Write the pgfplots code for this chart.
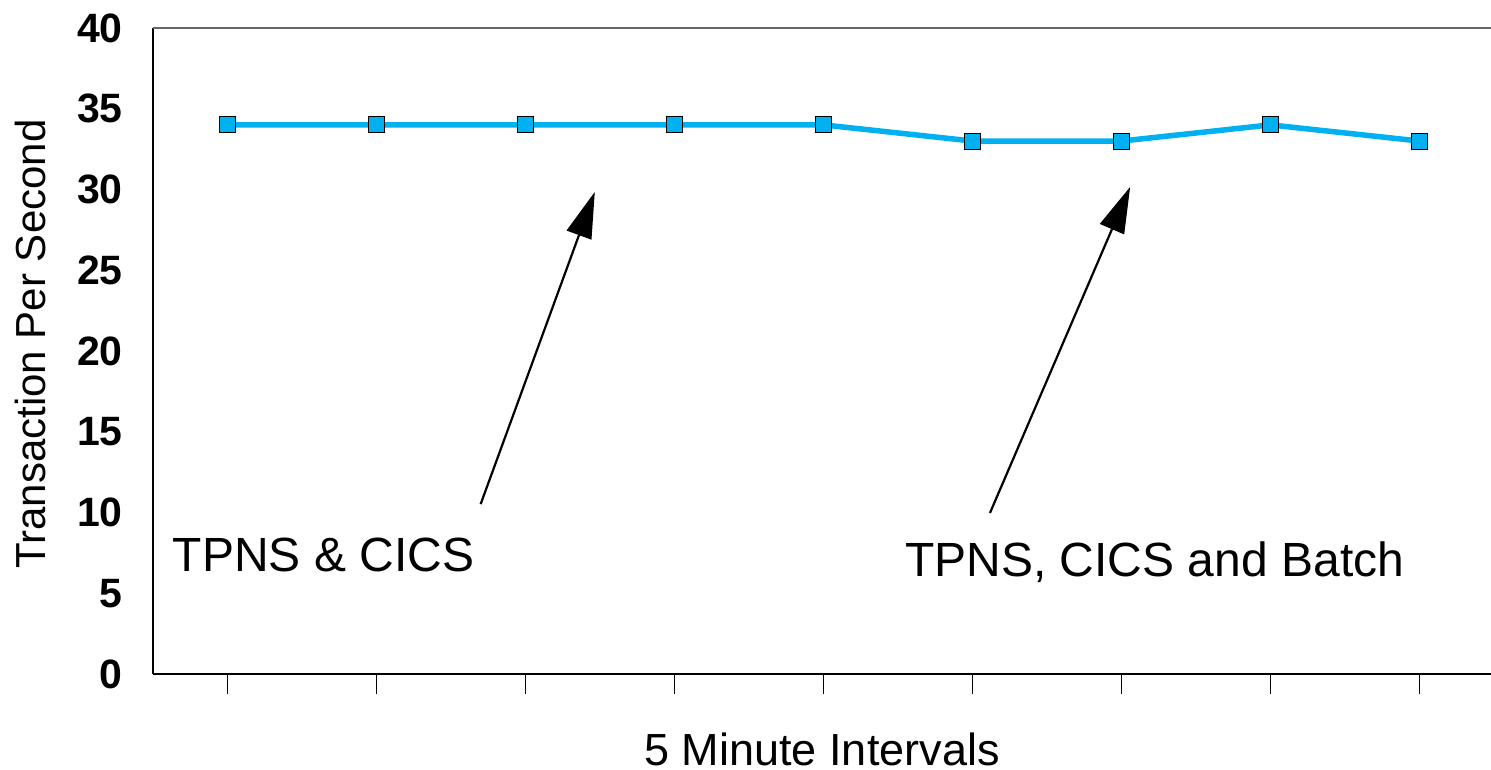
\documentclass[border=0pt]{standalone}
\usepackage{pgfplots}
\pgfplotsset{compat=1.18}
\usepackage{fontspec}
\setmainfont{Liberation Sans}
\usetikzlibrary{arrows.meta}
\definecolor{linecyan}{RGB}{0,176,240}
\begin{document}
\begin{tikzpicture}[x=1pt,y=1pt]
\useasboundingbox (-153,-96) rectangle (1338,674);
\begin{axis}[
  at={(0,0)}, anchor=south west,
  scale only axis,
  width=1338pt, height=646pt,
  xmin=0.5, xmax=9.48,
  ymin=0, ymax=40,
  axis x line*=bottom, axis y line*=left,
  axis line style={line width=2.4pt, -},
  xtick={1,2,3,4,5,6,7,8,9},
  xticklabels={},
  x tick style={black, line width=1pt},
  xtick align=outside,
  major tick length=20pt,
  ytick={0,5,...,40},
  y tick style={draw=none},
  /pgf/number format/assume math mode=true,
  yticklabel style={font=\bfseries\fontsize{41}{41}\selectfont, anchor=east, inner sep=0pt},
  yticklabel shift=30pt,
  xlabel={5 Minute Intervals},
  ylabel={Transaction Per Second},
  every axis x label/.style={at={(axis description cs:0.5,-0.1409)}, anchor=base, inner sep=0pt, text depth=0pt, font=\fontsize{45}{45}\selectfont},
  every axis y label/.style={at={(axis description cs:-0.07997,0.5108)}, anchor=base, rotate=90, font=\fontsize{42}{42}\selectfont},
  clip=false,
]
\addplot[color=linecyan, line width=5.5pt, mark=square*, mark size=8pt,
  mark options={fill=linecyan, draw=black, line width=1pt, solid}]
  coordinates {(1,34) (2,34) (3,34) (4,34) (5,34) (6,33) (7,33) (8,34) (9,33)};
\draw[gray!80!black, line width=1.2pt] (rel axis cs:0,1) -- (rel axis cs:1,1);
\draw[line width=2.2pt, -{Triangle[length=46pt,width=26pt]}] (axis cs:2.699,10.52) -- (axis cs:3.465,29.85);
\draw[line width=2.2pt, -{Triangle[length=46pt,width=26pt]}] (axis cs:6.117,9.97) -- (axis cs:7.058,30.16);
\node[anchor=base west, inner sep=0pt, font=\fontsize{48}{48}\selectfont] at (axis cs:0.631,6.32) {TPNS \& CICS};
\node[anchor=base west, inner sep=0pt, font=\fontsize{48}{48}\selectfont] at (axis cs:5.547,6.01) {TPNS, CICS and Batch};
\end{axis}
\end{tikzpicture}
\end{document}
